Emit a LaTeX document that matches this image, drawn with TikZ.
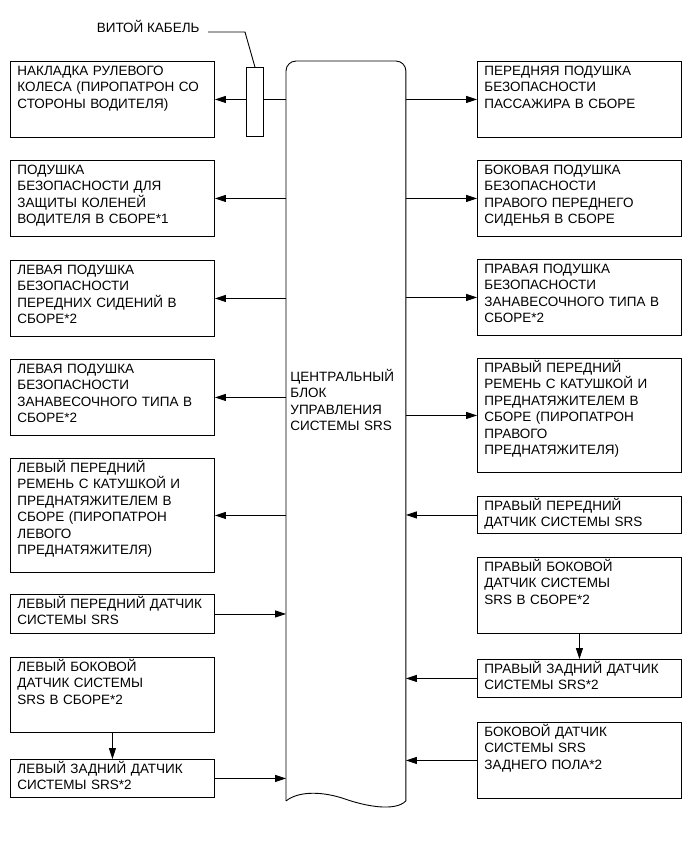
\documentclass[tikz,border=0pt]{standalone}
\usepackage{fontspec}
\setmainfont{Liberation Sans}
\usetikzlibrary{arrows.meta}

\begin{document}
\begin{tikzpicture}[x=1pt, y=-1pt, line width=0.9pt,
    unit/.style={draw, anchor=north west, minimum width=204, inner sep=0pt},
    caption/.style={anchor=base west, align=left, text width=196pt, inner sep=0pt,
      font=\fontsize{13.5}{16.5}\selectfont},
    conn/.style={-{Triangle[length=11pt, width=7pt]}}]
  \useasboundingbox (0,0) rectangle (691,855);

  % central control unit
  \node[minimum width=119, minimum height=739, anchor=north west, inner sep=0pt] (ecu) at (286,61) {};
  \draw[rounded corners=10pt] (ecu.south west) -- (ecu.north west) -- (ecu.north east) -- (ecu.south east);
  \draw (ecu.south east) .. controls (395,812) and (365,806) .. (345,799)
        .. controls (325,792) and (300,790) .. (ecu.south west);
  \node[caption, text width=112pt] (ecut) at (290,381) {ЦЕНТРАЛЬНЫЙ\\БЛОК\\УПРАВЛЕНИЯ\\СИСТЕМЫ SRS};

  % left column
  \node[unit, minimum height=76] (l1) at (10,61) {};
  \node[caption] (l1t) at ([shift={(7pt,-14pt)}]l1.north west) {НАКЛАДКА РУЛЕВОГО\\КОЛЕСА (ПИРОПАТРОН СО\\СТОРОНЫ ВОДИТЕЛЯ)};
  \node[unit, minimum height=76] (l2) at (10,160) {};
  \node[caption] (l2t) at ([shift={(7pt,-14pt)}]l2.north west) {ПОДУШКА\\БЕЗОПАСНОСТИ ДЛЯ\\ЗАЩИТЫ КОЛЕНЕЙ\\ВОДИТЕЛЯ В СБОРЕ*1};
  \node[unit, minimum height=76] (l3) at (10,260) {};
  \node[caption] (l3t) at ([shift={(7pt,-14pt)}]l3.north west) {ЛЕВАЯ ПОДУШКА\\БЕЗОПАСНОСТИ\\ПЕРЕДНИХ СИДЕНИЙ В\\СБОРЕ*2};
  \node[unit, minimum height=76] (l4) at (10,359) {};
  \node[caption] (l4t) at ([shift={(7pt,-14pt)}]l4.north west) {ЛЕВАЯ ПОДУШКА\\БЕЗОПАСНОСТИ\\ЗАНАВЕСОЧНОГО ТИПА В\\СБОРЕ*2};
  \node[unit, minimum height=114] (l5) at (10,458) {};
  \node[caption] (l5t) at ([shift={(7pt,-14pt)}]l5.north west) {ЛЕВЫЙ ПЕРЕДНИЙ\\РЕМЕНЬ С КАТУШКОЙ И\\ПРЕДНАТЯЖИТЕЛЕМ В\\СБОРЕ (ПИРОПАТРОН\\ЛЕВОГО\\ПРЕДНАТЯЖИТЕЛЯ)};
  \node[unit, minimum height=39] (l6) at (10,594) {};
  \node[caption] (l6t) at ([shift={(7pt,-14pt)}]l6.north west) {ЛЕВЫЙ ПЕРЕДНИЙ ДАТЧИК\\СИСТЕМЫ SRS};
  \node[unit, minimum height=75] (l7) at (10,657) {};
  \node[caption] (l7t) at ([shift={(7pt,-14pt)}]l7.north west) {ЛЕВЫЙ БОКОВОЙ\\ДАТЧИК СИСТЕМЫ\\SRS В СБОРЕ*2};
  \node[unit, minimum height=38] (l8) at (10,759) {};
  \node[caption] (l8t) at ([shift={(7pt,-14pt)}]l8.north west) {ЛЕВЫЙ ЗАДНИЙ ДАТЧИК\\СИСТЕМЫ SRS*2};

  % right column
  \node[unit, minimum height=76] (r1) at (477,61) {};
  \node[caption] (r1t) at ([shift={(7pt,-14pt)}]r1.north west) {ПЕРЕДНЯЯ ПОДУШКА\\БЕЗОПАСНОСТИ\\ПАССАЖИРА В СБОРЕ};
  \node[unit, minimum height=76] (r2) at (477,160) {};
  \node[caption] (r2t) at ([shift={(7pt,-14pt)}]r2.north west) {БОКОВАЯ ПОДУШКА\\БЕЗОПАСНОСТИ\\ПРАВОГО ПЕРЕДНЕГО\\СИДЕНЬЯ В СБОРЕ};
  \node[unit, minimum height=76] (r3) at (477,259) {};
  \node[caption] (r3t) at ([shift={(7pt,-14pt)}]r3.north west) {ПРАВАЯ ПОДУШКА\\БЕЗОПАСНОСТИ\\ЗАНАВЕСОЧНОГО ТИПА В\\СБОРЕ*2};
  \node[unit, minimum height=114] (r4) at (477,358) {};
  \node[caption] (r4t) at ([shift={(7pt,-14pt)}]r4.north west) {ПРАВЫЙ ПЕРЕДНИЙ\\РЕМЕНЬ С КАТУШКОЙ И\\ПРЕДНАТЯЖИТЕЛЕМ В\\СБОРЕ (ПИРОПАТРОН\\ПРАВОГО\\ПРЕДНАТЯЖИТЕЛЯ)};
  \node[unit, minimum height=37] (r5) at (477,496) {};
  \node[caption] (r5t) at ([shift={(7pt,-14pt)}]r5.north west) {ПРАВЫЙ ПЕРЕДНИЙ\\ДАТЧИК СИСТЕМЫ SRS};
  \node[unit, minimum height=76] (r6) at (477,557) {};
  \node[caption] (r6t) at ([shift={(7pt,-14pt)}]r6.north west) {ПРАВЫЙ БОКОВОЙ\\ДАТЧИК СИСТЕМЫ\\SRS В СБОРЕ*2};
  \node[unit, minimum height=38] (r7) at (477,659) {};
  \node[caption] (r7t) at ([shift={(7pt,-14pt)}]r7.north west) {ПРАВЫЙ ЗАДНИЙ ДАТЧИК\\СИСТЕМЫ SRS*2};
  \node[unit, minimum height=76] (r8) at (477,722) {};
  \node[caption] (r8t) at ([shift={(7pt,-14pt)}]r8.north west) {БОКОВОЙ ДАТЧИК\\СИСТЕМЫ SRS\\ЗАДНЕГО ПОЛА*2};

  % connectors
  \foreach \b in {l1,l2,l3,l4,l5}
    \draw[conn] (ecu.west |- \b.east) -- (\b.east);
  \foreach \b in {r1,r2,r3,r4}
    \draw[conn] (ecu.east |- \b.west) -- (\b.west);
  \foreach \b in {l6,l8}
    \draw[conn] (\b.east) -- (ecu.west |- \b.east);
  \foreach \b in {r5,r7,r8}
    \draw[conn] (\b.west) -- (ecu.east |- \b.west);
  \draw[conn] (l7.south) -- (l8.north);
  \draw[conn] (r6.south) -- (r7.north);

  % clock spring
  \node[draw, fill=white, minimum width=17, minimum height=69, anchor=north west, inner sep=0pt] (cable) at (246,67) {};
  \node[anchor=base east, inner sep=0pt, font=\fontsize{13.5}{16.5}\selectfont] (cablelbl) at (200,32) {ВИТОЙ КАБЕЛЬ};
  \coordinate (bend) at (245,32);
  \draw ([xshift=8pt]cablelbl.base east) -- (bend) -- (cable.north);
\end{tikzpicture}
\end{document}
